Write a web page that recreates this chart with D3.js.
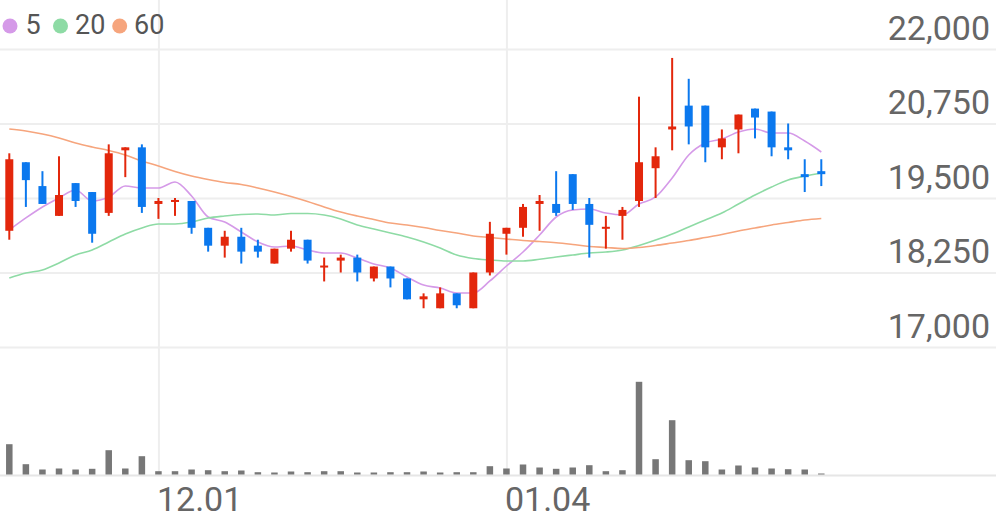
<!DOCTYPE html>
<html>
<head>
<meta charset="utf-8">
<script src="https://cdn.jsdelivr.net/npm/d3@7"></script>
<style>
  html, body { margin: 0; padding: 0; background: #fff; }
  svg { display: block; font-family: Roboto, "Noto Sans", sans-serif; }
</style>
</head>
<body>
<svg id="chart" width="996" height="519"></svg>
<script>
// ---- data ----
const dates = ["11.18","11.19","11.20","11.23","11.24","11.25","11.26","11.27","11.30",
  "12.01","12.02","12.03","12.04","12.07","12.08","12.09","12.10","12.11","12.14","12.15",
  "12.16","12.17","12.18","12.21","12.22","12.23","12.24","12.28","12.29","12.30",
  "01.04","01.05","01.06","01.07","01.08","01.11","01.12","01.13","01.14","01.15",
  "01.18","01.19","01.20","01.21","01.22","01.25","01.26","01.27","01.28","01.29"];

const opens = [18950,20100,19700,19200,19750,19600,19250,20300,20350,19400,
  19450,19450,19000,18700,18850,18700,18400,18650,18800,18350,
  18450,18500,18150,18350,18150,17800,17650,17900,17650,18250,
  18900,19000,19400,19400,19900,19400,19000,19200,19450,20000,
  20650,21050,21050,20350,20650,21000,20950,20350,19900,19950];
const highs = [20250,20100,19950,20200,19750,19600,20400,20350,20400,19500,
  19500,19450,19000,18950,19000,18800,18650,18950,18800,18500,
  18550,18550,18350,18350,18150,17900,18000,17900,18250,19100,
  19000,19400,19550,19950,19900,19500,19200,19350,21200,20350,
  21850,21500,21050,20650,20900,21000,20950,20750,20150,20150];
const lows = [18800,19350,19400,19200,19350,18750,19200,19850,19250,19150,
  19200,18900,18600,18500,18400,18500,18400,18600,18400,18100,
  18250,18100,18100,18000,17800,17650,17650,17650,17650,18200,
  18550,18850,18950,19200,19300,18500,18650,18800,19350,19500,
  20300,20400,20100,20150,20250,20500,20200,20150,19600,19700];
const closes = [20150,19800,19400,19550,19450,18900,20250,20350,19350,19450,
  19450,19000,18700,18850,18600,18600,18650,18800,18450,18350,
  18500,18250,18350,18150,17800,17850,17900,17700,18250,18900,
  19000,19350,19450,19250,19400,19050,19000,19300,20100,20200,
  20700,20700,20350,20500,20900,20850,20350,20300,19850,19900];
const volumes = [606000,206000,100000,120000,100000,114000,486000,120000,366000,66000,
  66000,100000,86000,66000,80000,46000,40000,60000,46000,66000,
  66000,40000,40000,46000,46000,60000,40000,46000,46000,166000,
  120000,200000,140000,114000,140000,186000,66000,86000,1854000,306000,
  1086000,286000,266000,100000,180000,140000,120000,106000,100000,20000];

const ma5 = [18963,19165,19349,19500,19634,19450,19517,19701,19668,19668,
  19769,19534,19181,19097,18930,18762,18678,18695,18628,18577,
  18577,18493,18393,18326,18175,18040,17990,17906,17906,18108,
  18359,18594,18879,19181,19299,19316,19248,19215,19399,19517,
  19836,20222,20423,20490,20607,20658,20591,20591,20456,20272];
const ma20 = [18158,18242,18292,18410,18544,18628,18762,18896,18997,19064,
  19064,19097,19165,19198,19223,19232,19215,19240,19240,19215,
  19148,19047,18980,18913,18846,18762,18661,18544,18485,18460,
  18443,18443,18472,18510,18544,18577,18594,18628,18703,18795,
  18896,19014,19131,19248,19399,19550,19685,19802,19869,19920];
const ma60 = [20658,20624,20574,20507,20423,20356,20297,20222,20121,20037,
  19945,19869,19810,19760,19727,19668,19601,19525,19441,19349,
  19265,19198,19139,19081,19047,19005,18955,18913,18863,18837,
  18812,18787,18770,18750,18720,18686,18670,18653,18670,18703,
  18745,18787,18837,18888,18946,18997,19047,19089,19131,19156];

const priceTicks = [17000, 18250, 19500, 20750, 22000];
const dateTicks = ["12.01", "01.04"];
const legendLabels = ["5", "20", "60"];

// ---- styles ----
const W = 996, H = 519;
const UP = "#e3270c", DOWN = "#0b78ee";
const maColors = ["#d59ae8", "#8edba5", "#f6a57d"];
const gridColor = "#eeeeee";
const textColor = "#666666";

const svg = d3.select("#chart");

const x = d3.scalePoint().domain(dates).range([9.3, 821.3]);
const y = d3.scaleLinear().domain([17000, 22000]).range([347, 49]);
const yv = d3.scaleLinear().domain([0, 2000000]).range([474.5, 374.5]);

// horizontal grid + price labels
const yAxis = svg.append("g")
  .call(d3.axisRight(y).tickValues(priceTicks).tickSize(W).tickFormat(d3.format(",")));
yAxis.select(".domain").remove();
yAxis.selectAll(".tick line").attr("stroke", gridColor).attr("stroke-width", 2);
yAxis.selectAll(".tick text")
  .attr("x", 990).attr("y", -9.7).attr("dy", null)
  .attr("text-anchor", "end")
  .attr("fill", textColor).style("font-size", "34px").style("font-family", "Roboto");

// vertical grid + date labels
const xAxis = svg.append("g").attr("transform", "translate(0,475.5)")
  .call(d3.axisBottom(x).tickValues(dateTicks).tickSize(-475.5));
xAxis.select(".domain").remove();
xAxis.selectAll(".tick line").attr("stroke", gridColor).attr("stroke-width", 2);
xAxis.selectAll(".tick text")
  .attr("x", -2).attr("y", 35.2).attr("dy", null)
  .attr("text-anchor", "start")
  .attr("fill", textColor).style("font-size", "34px").style("font-family", "Roboto");

// volume baseline
svg.append("line").attr("x1", 0).attr("x2", W).attr("y1", 475.5).attr("y2", 475.5)
  .attr("stroke", "#e6e6e6").attr("stroke-width", 2);

// volume bars
svg.append("g").selectAll("rect").data(volumes).join("rect")
  .attr("x", (d, i) => x(dates[i]) - 3.25)
  .attr("width", 6.5)
  .attr("y", d => yv(d))
  .attr("height", d => yv(0) - yv(d))
  .attr("fill", "#777777");

// moving averages
const line = d3.line().x((d, i) => x(dates[i])).y(d => y(d)).curve(d3.curveMonotoneX);
[ma5, ma20, ma60].forEach((s, k) => {
  svg.append("path").datum(s).attr("d", line)
    .attr("fill", "none").attr("stroke", maColors[k]).attr("stroke-width", 1.6);
});

// candles
const cg = svg.append("g");
dates.forEach((d, i) => {
  const o = opens[i], c = closes[i], h = highs[i], l = lows[i];
  const col = c >= o ? UP : DOWN;
  const cx = x(d);
  cg.append("line").attr("x1", cx).attr("x2", cx).attr("y1", y(h)).attr("y2", y(l))
    .attr("stroke", col).attr("stroke-width", 2);
  const top = y(Math.max(o, c)), bot = y(Math.min(o, c));
  const hgt = Math.max(bot - top, 2);
  cg.append("rect").attr("x", cx - 4).attr("width", 8)
    .attr("y", (top + bot) / 2 - hgt / 2).attr("height", hgt).attr("fill", col);
});

// legend
const legendPos = [{cx: 10, tx: 25.5}, {cx: 60.5, tx: 75}, {cx: 119.7, tx: 134}];
const lg = svg.append("g");
legendLabels.forEach((t, k) => {
  lg.append("circle").attr("cx", legendPos[k].cx).attr("cy", 26).attr("r", 7.5).attr("fill", maColors[k]);
  lg.append("text").attr("x", legendPos[k].tx).attr("y", 34.3).text(t)
    .attr("fill", "#555555").style("font-size", "27px").style("font-family", "Roboto");
});
</script>
</body>
</html>
